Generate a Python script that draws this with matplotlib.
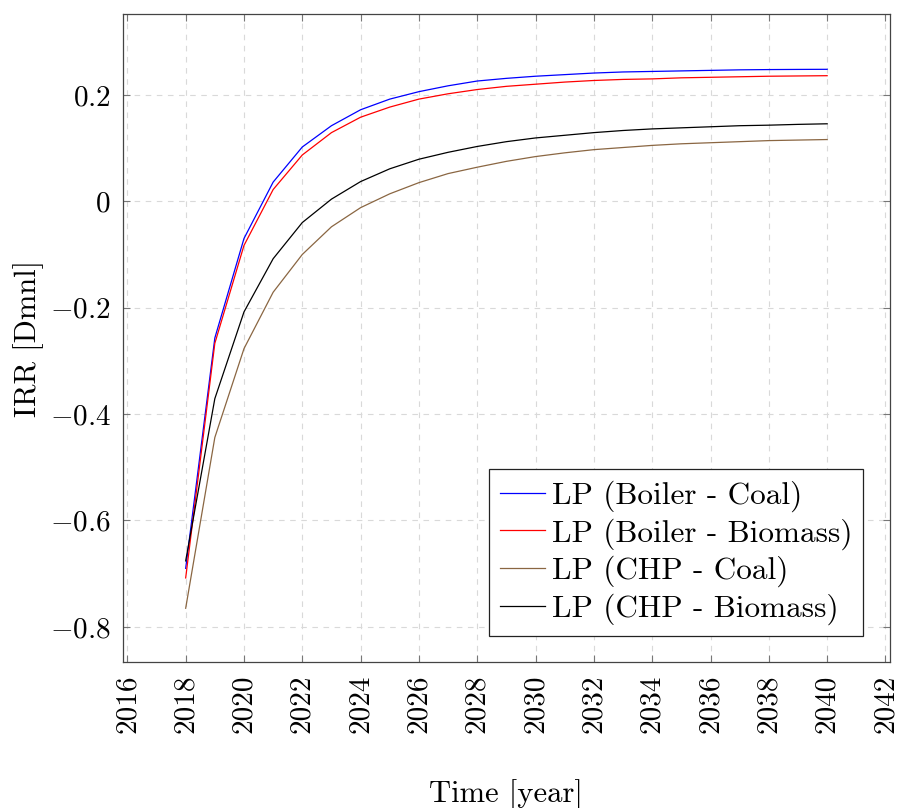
import numpy as np
import matplotlib.pyplot as plt

years = np.arange(2018, 2041)

boiler_coal = [-0.690, -0.257, -0.070, 0.036, 0.102, 0.142, 0.172, 0.192, 0.206, 0.217,
               0.226, 0.231, 0.235, 0.238, 0.241, 0.243, 0.244, 0.245, 0.246, 0.247,
               0.2475, 0.2478, 0.248]
boiler_biomass = [-0.708, -0.267, -0.083, 0.022, 0.087, 0.129, 0.158, 0.177, 0.192, 0.202,
                  0.210, 0.216, 0.220, 0.224, 0.227, 0.229, 0.230, 0.232, 0.233, 0.234,
                  0.235, 0.2355, 0.236]
chp_coal = [-0.765, -0.444, -0.277, -0.171, -0.100, -0.048, -0.012, 0.014, 0.035, 0.052,
            0.064, 0.075, 0.084, 0.091, 0.097, 0.101, 0.105, 0.108, 0.110, 0.112,
            0.114, 0.115, 0.116]
chp_biomass = [-0.676, -0.371, -0.208, -0.108, -0.040, 0.004, 0.037, 0.061, 0.079, 0.092,
               0.103, 0.112, 0.119, 0.124, 0.129, 0.133, 0.136, 0.138, 0.140, 0.142,
               0.143, 0.1445, 0.1456]

series = [
    (boiler_coal, 'LP (Boiler - Coal)', 'blue'),
    (boiler_biomass, 'LP (Boiler - Biomass)', 'red'),
    (chp_coal, 'LP (CHP - Coal)', '#8a6642'),
    (chp_biomass, 'LP (CHP - Biomass)', 'black'),
]

plt.rcParams['font.family'] = 'cmr10'
plt.rcParams['mathtext.fontset'] = 'cm'
plt.rcParams['axes.formatter.use_mathtext'] = True
plt.rcParams['font.size'] = 21

fig = plt.figure(figsize=(8.99, 8.08), dpi=100)
ax = fig.add_axes([0.1368, 0.1807, 0.853, 0.802])

for vals, label, color in series:
    ax.plot(years, vals, color=color, lw=0.9, label=label)

ax.set_xlim(2015.85, 2042.15)
ax.set_ylim(-0.866, 0.352)
ax.set_xticks(np.arange(2016, 2043, 2))
ax.set_yticks([-0.8, -0.6, -0.4, -0.2, 0, 0.2])
ax.set_yticklabels(['$-0.8$', '$-0.6$', '$-0.4$', '$-0.2$', '$0$', '$0.2$'])
ax.set_xticklabels([str(y) for y in range(2016, 2043, 2)], rotation=90)

ax.grid(True, color='#d9d9d9', linestyle=(0, (5, 5)), lw=0.8)
ax.tick_params(direction='in', top=True, right=True, length=5, color='#777777',
               labelsize=21, pad=9)
for s in ax.spines.values():
    s.set_color('#444444')
    s.set_linewidth(0.9)

ax.set_xlabel('Time [year]', fontsize=22, labelpad=33)
ax.set_ylabel('IRR [Dmnl]', fontsize=22, labelpad=4)

leg = ax.legend(loc='lower right', bbox_to_anchor=(0.965, 0.04), fontsize=22.5,
                fancybox=False, framealpha=1, edgecolor='#222222',
                handlelength=1.45, handletextpad=0.2, borderpad=0.35,
                labelspacing=0.2, borderaxespad=0)
leg.get_frame().set_linewidth(0.9)

fig.savefig('out.png', dpi=100)
